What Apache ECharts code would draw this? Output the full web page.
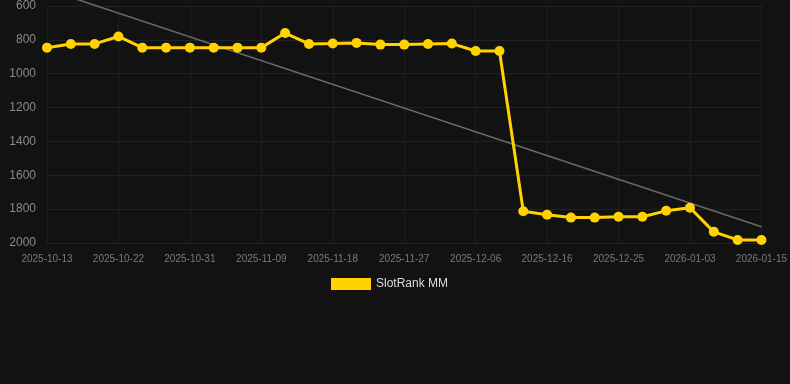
<!DOCTYPE html>
<html><head><meta charset="utf-8">
<script src="https://cdn.jsdelivr.net/npm/echarts@6/dist/echarts.min.js"></script>
<style>html,body{margin:0;padding:0;background:#121212;}#c{width:790px;height:384px;}</style>
</head><body><div id="c"></div>
<script>
const dates = ['2025-10-13','2025-10-16','2025-10-19','2025-10-22','2025-10-25','2025-10-28','2025-10-31','2025-11-03','2025-11-06','2025-11-09','2025-11-12','2025-11-15','2025-11-18','2025-11-21','2025-11-24','2025-11-27','2025-11-30','2025-12-03','2025-12-06','2025-12-09','2025-12-13','2025-12-16','2025-12-19','2025-12-22','2025-12-25','2025-12-28','2025-12-31','2026-01-03','2026-01-07','2026-01-11','2026-01-15'];
const rankValues = [846,824,824,780,846,846,846,846,846,846,760,824,822,818,828,828,825,822,866,866,1812,1833,1850,1850,1845,1845,1810,1792,1934,1982,1982];
const trendStart = 502;
const trendEnd = 1904;
const seriesName = 'SlotRank MM';

const trendData = dates.map((d, i) => i === 0 ? trendStart : (i === dates.length - 1 ? trendEnd : null));

const chart = echarts.init(document.getElementById('c'));
chart.setOption({
  backgroundColor: '#121212',
  animation: false,
  grid: {left: 47, right: 28, top: 6, bottom: 141, containLabel: false},
  legend: {
    data: [seriesName], bottom: 89, left: 326,
    itemWidth: 40, itemHeight: 12, icon: 'rect',
    textStyle: {color: '#dddddd', fontSize: 12, fontFamily: 'Liberation Sans, Arial, sans-serif'}
  },
  xAxis: {
    type: 'category', data: dates, boundaryGap: false,
    axisLine: {show: false}, axisTick: {show: false},
    axisLabel: {interval: 2, color: '#7a7a7a', fontSize: 10, margin: 11, fontFamily: 'Liberation Sans, Arial, sans-serif'},
    splitLine: {show: true, interval: 2, lineStyle: {color: '#1f1f1f', width: 1}}
  },
  yAxis: {
    type: 'value', inverse: true, min: 600, max: 2000, interval: 200,
    axisLine: {show: false}, axisTick: {show: false},
    axisLabel: {color: '#8a8a8a', fontSize: 12, margin: 11, formatter: v => String(v), fontFamily: 'Liberation Sans, Arial, sans-serif'},
    splitLine: {show: true, lineStyle: {color: '#222222', width: 1}}
  },
  series: [
    {
      name: 'trend', type: 'line', data: trendData, connectNulls: true,
      symbol: 'none', clip: false, silent: true, z: 1,
      lineStyle: {color: '#6a6a6a', width: 1.5}
    },
    {
      name: seriesName, type: 'line', data: rankValues, z: 3,
      symbol: 'circle', symbolSize: 10,
      itemStyle: {color: '#ffd200'},
      lineStyle: {color: '#ffd200', width: 3}
    }
  ]
});
</script></body></html>
